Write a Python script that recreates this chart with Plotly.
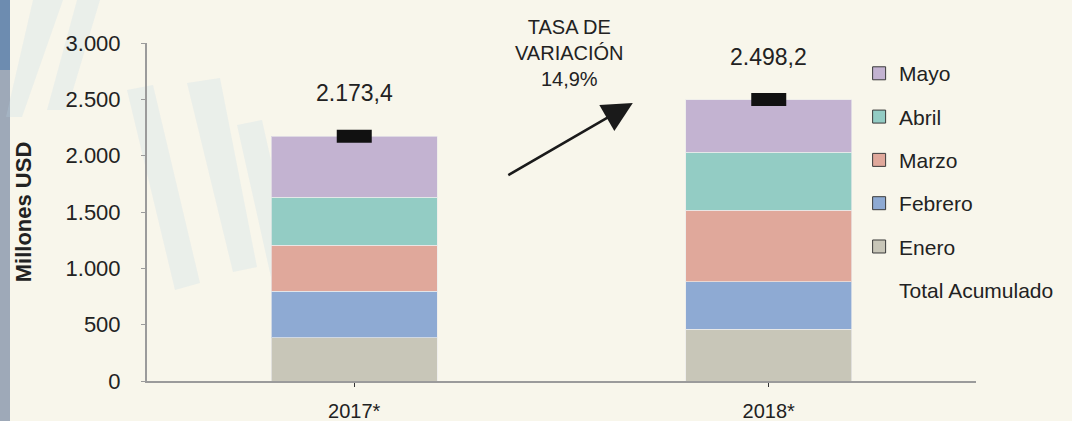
"""
Exportaciones acumuladas enero-mayo, 2017 vs 2018 (stacked bars).
"""
import plotly.graph_objects as go

_FONT = "Liberation Sans, Arial, sans-serif"
_TEXT = "#222222"
_AXIS = "#9b9b9b"
_BG = "#f8f6eb"

years = ["2017*", "2018*"]
months = ["Enero", "Febrero", "Marzo", "Abril", "Mayo"]
enero = [385.0, 459.0]
febrero = [410.0, 422.0]
marzo = [410.0, 634.0]
abril = [425.0, 515.0]
mayo = [543.4, 468.2]
totals = [2173.4, 2498.2]
variation_label = "TASA DE<br>VARIACIÓN<br>14,9%"

month_values = [enero, febrero, marzo, abril, mayo]
month_colours = ["#c8c6b8", "#8eaad3", "#e0a89b", "#93ccc4", "#c3b3d1"]


def _fmt(v):
    s = f"{v:,.1f}"
    return s.replace(",", "X").replace(".", ",").replace("X", ".")


fig = go.Figure()

for name, vals, colour in zip(months, month_values, month_colours):
    fig.add_trace(go.Bar(
        x=years,
        y=vals,
        name=name,
        marker=dict(color=colour, line=dict(color="rgba(235,235,235,0.7)", width=1)),
        width=0.4,
        showlegend=False,
    ))

fig.add_trace(go.Scatter(
    x=years,
    y=totals,
    mode="markers",
    marker=dict(symbol="line-ew", size=25, line=dict(color="#111111", width=13)),
    name="Total Acumulado",
    showlegend=False,
))

# legend-only entries (dark outlined squares, Mayo on top)
legend_names = months[::-1] + ["Total Acumulado"]
legend_colours = month_colours[::-1] + ["rgba(0,0,0,0)"]
for rank, (name, colour) in enumerate(zip(legend_names, legend_colours)):
    line_w = 0 if name == "Total Acumulado" else 1
    fig.add_trace(go.Scatter(
        x=[None],
        y=[None],
        mode="markers",
        name=name,
        legendgroup=name,
        legendrank=rank + 1,
        marker=dict(symbol="square", size=13, color=colour,
                    line=dict(color="#3a3a3a", width=line_w)),
    ))

annotations = []
for year, total in zip(years, totals):
    annotations.append(dict(
        x=year, y=total, text=_fmt(total), showarrow=False,
        yshift=43, font=dict(family=_FONT, size=23, color=_TEXT),
    ))

annotations.append(dict(
    x=0.52, y=2911, xref="x", yref="y", text=variation_label, showarrow=False,
    font=dict(family=_FONT, size=20, color=_TEXT), align="center",
))
annotations.append(dict(
    x=0.672, y=2468, ax=0.368, ay=1820, xref="x", yref="y", axref="x", ayref="y",
    text="", showarrow=True, arrowhead=2, arrowsize=2.4, arrowwidth=2.5,
    arrowcolor="#1a1a1a",
))

# faint background decoration (pixel offsets from the figure's top-left corner)
_X0 = -147 / 829
_Y0 = 1 + 43 / 338
shapes = [
    dict(type="rect", xref="paper", yref="paper", xsizemode="pixel", ysizemode="pixel",
         xanchor=_X0, yanchor=_Y0, x0=0, x1=10, y0=-421, y1=0,
         fillcolor="#9ea9b8", line=dict(width=0), layer="below"),
    dict(type="rect", xref="paper", yref="paper", xsizemode="pixel", ysizemode="pixel",
         xanchor=_X0, yanchor=_Y0, x0=0, x1=10, y0=-70, y1=0,
         fillcolor="#6d8cb0", line=dict(width=0), layer="below"),
]
for path in [
    "M 33,0 L 63,0 L 22,-117 L 6,-117 Z",
    "M 77,0 L 100,0 L 67,-110 L 47,-110 Z",
    "M 127,-90 L 153,-85 L 200,-283 L 175,-290 Z",
    "M 187,-83 L 220,-78 L 257,-267 L 233,-272 Z",
    "M 237,-125 L 262,-120 L 300,-290 L 275,-295 Z",
]:
    shapes.append(dict(type="path", xref="paper", yref="paper", xsizemode="pixel",
                       ysizemode="pixel", xanchor=_X0, yanchor=_Y0,
                       path=path, fillcolor="rgba(185,212,230,0.22)",
                       line=dict(width=0), layer="below"))

fig.update_layout(
    barmode="stack",
    width=1072,
    height=421,
    margin=dict(l=147, r=96, t=43, b=40),
    paper_bgcolor=_BG,
    plot_bgcolor="rgba(0,0,0,0)",
    separators=",.",
    font=dict(family=_FONT, color=_TEXT, size=22),
    bargap=0.6,
    xaxis=dict(
        automargin=False,
        showline=True, linecolor=_AXIS, linewidth=2,
        ticks="outside", ticklen=4, tickcolor="#333333", tickwidth=1,
        tickfont=dict(family=_FONT, size=20, color=_TEXT),
        ticklabelstandoff=7,
        showgrid=False, zeroline=False,
    ),
    yaxis=dict(
        automargin=False,
        range=[0, 3000], dtick=500, tickformat=",d",
        showline=True, linecolor=_AXIS, linewidth=2,
        ticks="outside", ticklen=4, tickcolor=_AXIS,
        tickfont=dict(family=_FONT, size=22, color=_TEXT),
        ticklabelstandoff=16,
        showgrid=False, zeroline=False,
        title=dict(text="<b>Millones USD</b>", standoff=28,
                   font=dict(family=_FONT, size=22, color=_TEXT)),
    ),
    legend=dict(
        x=0.859, y=0.97, xanchor="left", yanchor="top",
        font=dict(family=_FONT, size=21, color=_TEXT),
        bgcolor="rgba(0,0,0,0)", tracegroupgap=13,
    ),
    annotations=annotations,
    shapes=shapes,
)

# drop the page's default body margin so the figure sits at the window corner
fig.write_html(
    "out.html",
    config={"displayModeBar": False},
    post_script=f"document.body.style.margin='0';document.body.style.background='{_BG}';",
)
